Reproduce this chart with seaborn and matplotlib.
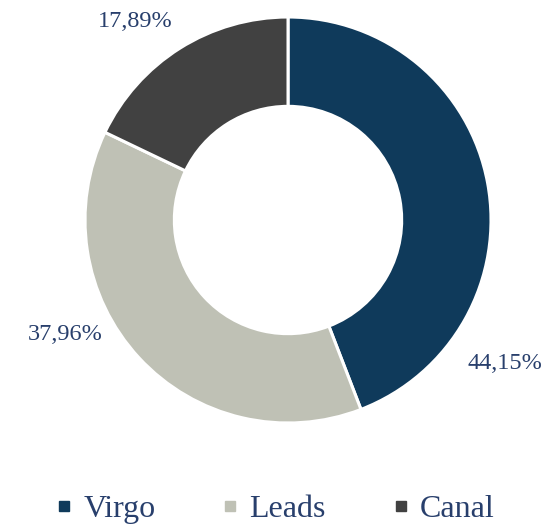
import matplotlib
matplotlib.use("Agg")
import matplotlib.pyplot as plt
import seaborn as sns
from matplotlib.lines import Line2D

categories = ["Virgo", "Leads", "Canal"]
shares = [44.15, 37.96, 17.89]
colors = ["#0f3a5b", "#bfc1b5", "#414141"]
# where the percentage labels sit (in units of the outer radius)
label_pos = [(1.069, -0.705), (-1.099, -0.562), (-0.753, 0.98)]

sns.set_theme(style="white")
plt.rcParams["font.family"] = ["Liberation Serif", "DejaVu Serif"]
text_color = "#283f6c"

fig = plt.figure(figsize=(5.55, 5.25), dpi=100)
ax = fig.add_axes([0.1532, 0.1943, 0.7315, 0.7733])

wedges, _ = ax.pie(
    shares,
    colors=colors,
    startangle=90,
    counterclock=False,
    radius=1,
    wedgeprops=dict(width=0.44, edgecolor="white", linewidth=2.2),
)
ax.set_xlim(-1, 1)
ax.set_ylim(-1, 1)
ax.set_axis_off()

for val, (x, y) in zip(shares, label_pos):
    txt = f"{val:.2f}%".replace(".", ",")
    ax.text(x, y, txt, ha="center", va="center", fontsize=17.5,
            color=text_color, clip_on=False)

handles = [Line2D([], [], marker="s", ls="", color=c, markersize=7.5) for c in colors]
fig.legend(handles, categories, loc="center", bbox_to_anchor=(0.495, 0.030),
           ncol=3, frameon=False, fontsize=23, handlelength=0.6,
           handletextpad=0.3, columnspacing=2.05, labelcolor=text_color,
           borderaxespad=0, borderpad=0)

fig.savefig("out.png", dpi=100)
